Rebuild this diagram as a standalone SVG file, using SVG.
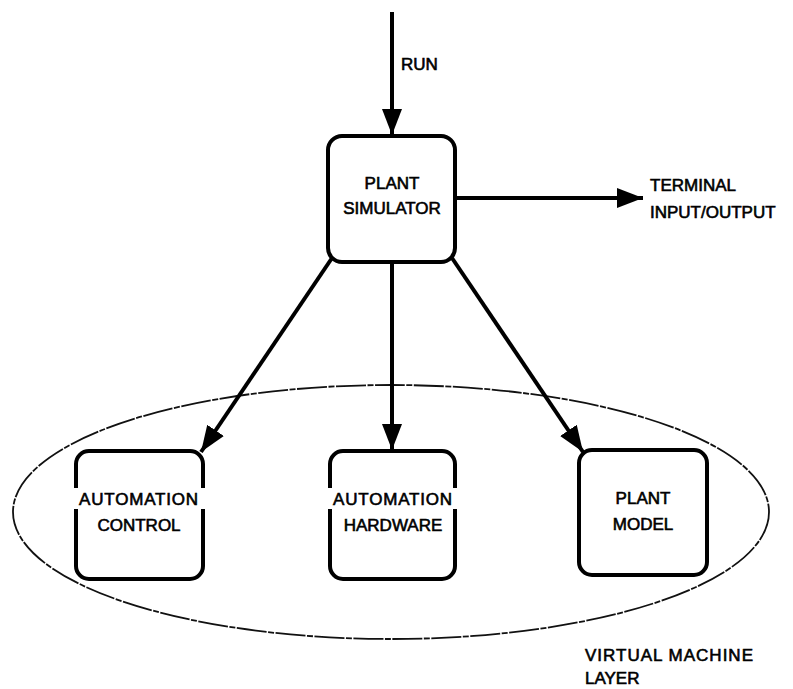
<svg xmlns="http://www.w3.org/2000/svg" width="793" height="689" viewBox="0 0 793 689">
<style>
.box{fill:#fff;stroke:#000;stroke-width:4}
.t{font-family:"Liberation Sans",Arial,sans-serif;font-size:17px;fill:#000;stroke:#000;stroke-width:0.6;text-anchor:middle}
.tl{font-family:"Liberation Sans",Arial,sans-serif;font-size:17px;fill:#000;stroke:#000;stroke-width:0.6}
.conn{stroke:#000;stroke-width:4;fill:none}
.layer{fill:none;stroke:#111;stroke-width:1.8;stroke-dasharray:30 1.5 6 1.5}
</style>
<defs>
<marker id="ah" markerUnits="userSpaceOnUse" markerWidth="28" markerHeight="22" refX="26" refY="11" orient="auto">
<path d="M0,1 L26,11 L0,21 Z" fill="#000"/>
</marker>
</defs>
<rect width="793" height="689" fill="#fff"/>
<g id="layer">
<ellipse class="layer" cx="391" cy="512" rx="378" ry="127"/>
<text class="tl" x="585" y="661" letter-spacing="1">VIRTUAL MACHINE</text>
<text class="tl" x="585" y="684">LAYER</text>
</g>
<g id="connectors">
<line class="conn" x1="392" y1="12" x2="392" y2="135" marker-end="url(#ah)"/>
<text class="tl" x="401" y="70">RUN</text>
<line class="conn" x1="455" y1="198" x2="643" y2="198" marker-end="url(#ah)"/>
<line class="conn" x1="332" y1="258" x2="201" y2="452" marker-end="url(#ah)"/>
<line class="conn" x1="392" y1="262" x2="392" y2="450" marker-end="url(#ah)"/>
<line class="conn" x1="452" y1="258" x2="583" y2="452" marker-end="url(#ah)"/>
</g>
<g id="plant-simulator">
<rect class="box" x="328" y="136" width="127" height="126" rx="14"/>
<text class="t" x="392" y="189">PLANT</text>
<text class="t" x="392" y="214">SIMULATOR</text>
</g>
<g id="terminal">
<text class="tl" x="650" y="191">TERMINAL</text>
<text class="tl" x="650" y="218">INPUT/OUTPUT</text>
</g>
<g id="automation-control">
<rect class="box" x="76" y="451" width="127" height="128" rx="13"/>
<rect x="70" y="488" width="140" height="21" fill="#fff"/>
<text class="t" x="139" y="505" letter-spacing="0.8">AUTOMATION</text>
<text class="t" x="139" y="531">CONTROL</text>
</g>
<g id="automation-hardware">
<rect class="box" x="330" y="451" width="125" height="128" rx="13"/>
<rect x="324" y="488" width="138" height="21" fill="#fff"/>
<text class="t" x="393" y="505" letter-spacing="0.8">AUTOMATION</text>
<text class="t" x="393" y="531">HARDWARE</text>
</g>
<g id="plant-model">
<rect class="box" x="579" y="450" width="128" height="125" rx="13"/>
<text class="t" x="643" y="504">PLANT</text>
<text class="t" x="643" y="530">MODEL</text>
</g>
</svg>
